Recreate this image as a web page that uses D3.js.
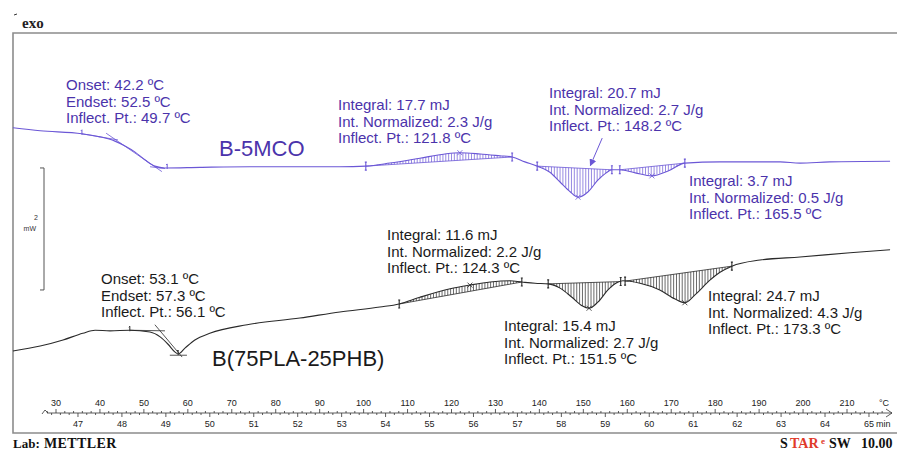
<!DOCTYPE html>
<html>
<head>
<meta charset="utf-8">
<script src="https://cdn.jsdelivr.net/npm/d3@7/dist/d3.min.js"></script>
<style>
  body { margin: 0; background: #fff; }
  svg text { font-family: "Liberation Sans", Arial, sans-serif; }
</style>
</head>
<body>
<div id="chartArea"></div>
<script>
// DSC THERMOGRAM - two curves, heat flow (mW) vs temperature (C)

// axis labels
var tempTicks = [30, 40, 50, 60, 70, 80, 90, 100, 110, 120, 130, 140, 150, 160, 170, 180, 190, 200, 210];
var timeTicks = [47, 48, 49, 50, 51, 52, 53, 54, 55, 56, 57, 58, 59, 60, 61, 62, 63, 64, 65];

// B-5MCO curve (upper)
var topTemp = [20.2, 26.4, 35.9, 40.0, 43.4, 45.7, 48.0, 50.3, 52.5, 54.8, 62.8, 74.1, 85.5, 94.6, 100.5, 106.0, 112.8, 118.5, 121.9, 126.5, 131.0, 133.8, 136.7, 139.5, 142.4, 144.7, 147.0, 148.8, 151.1, 153.3, 155.2, 156.5, 158.3, 161.8, 165.6, 169.3, 173.1, 181.1, 194.8, 199.3, 206.1, 219.8];
var topHF = [4.30, 4.25, 4.20, 4.15, 4.08, 4.00, 3.90, 3.77, 3.67, 3.64, 3.65, 3.66, 3.66, 3.66, 3.67, 3.72, 3.80, 3.87, 3.89, 3.87, 3.84, 3.82, 3.74, 3.67, 3.57, 3.41, 3.25, 3.16, 3.25, 3.44, 3.56, 3.61, 3.61, 3.56, 3.51, 3.59, 3.72, 3.74, 3.74, 3.72, 3.74, 3.75];

// B(75PLA-25PHB) curve (lower)
var botTemp = [20.2, 26.4, 31.6, 36.1, 38.9, 42.3, 46.8, 51.4, 53.7, 55.5, 57.1, 57.8, 59.4, 61.6, 65.0, 73.5, 85.5, 94.6, 103.7, 108.1, 112.8, 119.7, 124.2, 128.8, 133.3, 136.0, 139.0, 142.0, 144.7, 147.4, 149.7, 151.3, 153.3, 155.6, 157.4, 159.0, 162.9, 167.4, 170.9, 173.1, 175.4, 178.8, 181.1, 183.8, 190.2, 199.3, 210.7, 219.8];
var botHF = [0.64, 0.72, 0.82, 0.93, 0.98, 0.97, 0.98, 0.95, 0.87, 0.75, 0.62, 0.59, 0.69, 0.82, 0.93, 1.07, 1.18, 1.28, 1.36, 1.41, 1.52, 1.66, 1.72, 1.77, 1.79, 1.77, 1.75, 1.74, 1.67, 1.52, 1.38, 1.34, 1.44, 1.64, 1.75, 1.79, 1.75, 1.64, 1.49, 1.43, 1.56, 1.80, 1.93, 2.03, 2.13, 2.18, 2.25, 2.30];

// integration limits, peaks, onset marks
var topLimits = [[100.5, 133.8], [139.5, 156.5], [158.3, 173.1]];
var botLimits = [[108.1, 136.0], [142.0, 158.5], [159.5, 183.8]];
var topPeaks = [121.9, 148.8, 165.6];
var botPeaks = [124.2, 151.3, 173.1];
var topOnsetMarks = [35.9, 55.3];
var botOnsetMarks = [46.8, 57.8];
var topTangents = [[[35.9, 4.20], [44.1, 4.10]], [[41.4, 4.21], [54.1, 3.58]], [[51.4, 3.66], [54.8, 3.63]]];
var botTangents = [[[46.8, 0.98], [54.8, 0.97]], [[52.5, 1.07], [58.7, 0.54]], [[55.9, 0.57], [59.8, 0.57]]];
var topArrow = [[154.3, 4.13], [151.6, 3.68]];
var scaleBar = [3.64, 1.64];   // 2 mW

// texts
var topOnsetText = ["Onset: 42.2 \u00baC", "Endset: 52.5 \u00baC", "Inflect. Pt.: 49.7 \u00baC"];
var topInt1Text = ["Integral: 17.7 mJ", "Int. Normalized: 2.3 J/g", "Inflect. Pt.: 121.8 \u00baC"];
var topInt2Text = ["Integral: 20.7 mJ", "Int. Normalized: 2.7 J/g", "Inflect. Pt.: 148.2 \u00baC"];
var topInt3Text = ["Integral: 3.7 mJ", "Int. Normalized: 0.5 J/g", "Inflect. Pt.: 165.5 \u00baC"];
var botOnsetText = ["Onset: 53.1 \u00baC", "Endset: 57.3 \u00baC", "Inflect. Pt.: 56.1 \u00baC"];
var botInt1Text = ["Integral: 11.6 mJ", "Int. Normalized: 2.2 J/g", "Inflect. Pt.: 124.3 \u00baC"];
var botInt2Text = ["Integral: 15.4 mJ", "Int. Normalized: 2.7 J/g", "Inflect. Pt.: 151.5 \u00baC"];
var botInt3Text = ["Integral: 24.7 mJ", "Int. Normalized: 4.3 J/g", "Inflect. Pt.: 173.3 \u00baC"];
var topName = "B-5MCO";
var botName = "B(75PLA-25PHB)";

(function() {

    var width = 897, height = 450;
    var purple = "#6b57d6", purpleText = "#4b33ab";
    var black = "#2a2a2a", blackText = "#1a1a1a";

    // 1. scales
    var x = d3.scaleLinear().domain([30, 210]).range([56, 847]);
    var y = d3.scaleLinear().domain([0, 6]).range([390, 24]);   // 61 px per mW
    // 10 K/min, 47 min is at 35 C
    var xt = d3.scaleLinear().domain([47, 65]).range([x(35), x(215)]);

    var svg = d3.select("#chartArea").append("svg")
        .attr("width", width)
        .attr("height", height);

    // 2. frame
    svg.append("path")
        .attr("d", "M897,33H13V433H897")
        .attr("fill", "none")
        .attr("stroke", "#8c8c8c")
        .attr("stroke-width", 1.6);

    svg.append("line").attr("x1", 14).attr("y1", 15).attr("x2", 17).attr("y2", 14)
        .attr("stroke", "#333").attr("stroke-width", 1);
    svg.append("text")
        .attr("x", 22).attr("y", 28)
        .style("font-family", "'Liberation Serif', serif")
        .style("font-weight", "bold")
        .style("font-size", "15px")
        .attr("fill", "#222")
        .text("exo");

    // 3. temperature / time axis
    var axisY = 413;
    var ax = svg.append("g").attr("class", "axis");
    ax.append("line").attr("x1", 47).attr("x2", 892).attr("y1", axisY).attr("y2", axisY)
        .attr("stroke", "#333").attr("stroke-width", 0.8);
    ax.append("path").attr("d", "M42," + (axisY + 1) + "L45," + (axisY - 3) + "L48," + axisY)
        .attr("fill", "none").attr("stroke", "#333").attr("stroke-width", 0.8);
    ax.append("path").attr("d", "M886," + (axisY - 4) + "L892," + axisY + "L886," + (axisY + 4))
        .attr("fill", "none").attr("stroke", "#333").attr("stroke-width", 0.8);

    var minorT = [];
    for (var t = 28; t <= 218; t += 2) minorT.push(t);
    ax.selectAll(".tminor").data(minorT).enter().append("line")
        .attr("x1", function(d) { return x(d); }).attr("x2", function(d) { return x(d); })
        .attr("y1", axisY).attr("y2", function(d) { return d % 10 === 0 ? axisY - 4 : axisY - 2; })
        .attr("stroke", "#333").attr("stroke-width", 0.8);
    var minorM = [];
    for (var m = 46.4; m <= 65.3; m += 0.2) minorM.push(Math.round(m * 10) / 10);
    ax.selectAll(".mminor").data(minorM).enter().append("line")
        .attr("x1", function(d) { return xt(d); }).attr("x2", function(d) { return xt(d); })
        .attr("y1", axisY).attr("y2", function(d) { return Math.abs(d - Math.round(d)) < 0.01 ? axisY + 4 : axisY + 2; })
        .attr("stroke", "#333").attr("stroke-width", 0.8);

    ax.selectAll(".tlab").data(tempTicks).enter().append("text")
        .attr("x", function(d) { return x(d); })
        .attr("y", axisY - 7)
        .attr("text-anchor", "middle")
        .style("font-size", "9px")
        .attr("fill", "#222")
        .text(function(d) { return d; });
    ax.append("text").attr("x", 884).attr("y", axisY - 7).attr("text-anchor", "middle")
        .style("font-size", "9px").attr("fill", "#222").text("\u00b0C");
    ax.selectAll(".mlab").data(timeTicks).enter().append("text")
        .attr("x", function(d) { return xt(d); })
        .attr("y", axisY + 14)
        .attr("text-anchor", "middle")
        .style("font-size", "9px")
        .attr("fill", "#222")
        .text(function(d) { return d; });
    ax.append("text").attr("x", xt(65) + 7).attr("y", axisY + 14)
        .style("font-size", "9px").attr("fill", "#222").text("min");

    // 4. scale bar (2 mW)
    var sb = svg.append("g");
    sb.append("path")
        .attr("d", "M40," + y(scaleBar[0]) + "H44V" + y(scaleBar[1]) + "H40")
        .attr("fill", "none").attr("stroke", "#555").attr("stroke-width", 1);
    sb.append("text").attr("x", 38).attr("y", 220).attr("text-anchor", "end")
        .style("font-size", "7px").attr("fill", "#333").text("2");
    sb.append("text").attr("x", 36).attr("y", 231).attr("text-anchor", "end")
        .style("font-size", "7px").attr("fill", "#333").text("mW");

    // helper - linear value of curve at temperature T
    function hfAt(T, ts, hs) {
        var i = d3.bisectLeft(ts, T);
        if (i <= 0) return hs[0];
        if (i >= ts.length) return hs[hs.length - 1];
        var f = (T - ts[i - 1]) / (ts[i] - ts[i - 1]);
        return hs[i - 1] + f * (hs[i] - hs[i - 1]);
    }

    // 5. draw one curve with its evaluations
    function drawCurve(ts, hs, limits, peaks, onsets, tangents, col) {
        var g = svg.append("g");
        var pts = ts.map(function(d, i) { return [d, hs[i]]; });
        var line = d3.line()
            .x(function(d) { return x(d[0]); })
            .y(function(d) { return y(d[1]); })
            .curve(d3.curveMonotoneX);

        // hatching between curve and integration baseline
        limits.forEach(function(lim) {
            var h0 = hfAt(lim[0], ts, hs), h1 = hfAt(lim[1], ts, hs);
            var hatch = [];
            for (var T = lim[0] + 0.65; T < lim[1]; T += 0.65) hatch.push(T);
            g.selectAll(null).data(hatch).enter().append("line")
                .attr("x1", function(d) { return x(d); })
                .attr("x2", function(d) { return x(d); })
                .attr("y1", function(d) { return y(hfAt(d, ts, hs)); })
                .attr("y2", function(d) { return y(h0 + (h1 - h0) * (d - lim[0]) / (lim[1] - lim[0])); })
                .attr("stroke", col).attr("stroke-width", 0.7);
            g.append("line")
                .attr("x1", x(lim[0])).attr("y1", y(h0))
                .attr("x2", x(lim[1])).attr("y2", y(h1))
                .attr("stroke", col).attr("stroke-width", 0.8);
            // limit marks
            [lim[0], lim[1]].forEach(function(T) {
                var yy = y(hfAt(T, ts, hs));
                g.append("path")
                    .attr("d", "M" + (x(T) - 1) + "," + (yy - 4) + "H" + (x(T) + 1) +
                        "M" + x(T) + "," + (yy - 4) + "V" + (yy + 4) +
                        "M" + (x(T) - 1) + "," + (yy + 4) + "H" + (x(T) + 1))
                    .attr("fill", "none").attr("stroke", col).attr("stroke-width", 1.1);
            });
        });

        tangents.forEach(function(tg) {
            g.append("line")
                .attr("x1", x(tg[0][0])).attr("y1", y(tg[0][1]))
                .attr("x2", x(tg[1][0])).attr("y2", y(tg[1][1]))
                .attr("stroke", col).attr("stroke-width", 0.8);
        });

        g.append("path")
            .datum(pts)
            .attr("d", line)
            .attr("fill", "none")
            .attr("stroke", col)
            .attr("stroke-width", 1.1);

        // peak crosses
        peaks.forEach(function(T) {
            var xx = x(T), yy = y(hfAt(T, ts, hs));
            g.append("path")
                .attr("d", "M" + (xx - 2.5) + "," + (yy - 2.5) + "L" + (xx + 2.5) + "," + (yy + 2.5) +
                    "M" + (xx - 2.5) + "," + (yy + 2.5) + "L" + (xx + 2.5) + "," + (yy - 2.5))
                .attr("stroke", col).attr("stroke-width", 0.8);
        });

        // onset marks
        onsets.forEach(function(T) {
            var xx = x(T), yy = y(hfAt(T, ts, hs));
            g.append("path")
                .attr("d", "M" + (xx - 1) + "," + (yy - 3) + "L" + xx + "," + (yy - 4) + "V" + (yy + 1))
                .attr("fill", "none").attr("stroke", col).attr("stroke-width", 1);
        });
    }

    drawCurve(topTemp, topHF, topLimits, topPeaks, topOnsetMarks, topTangents, purple);
    drawCurve(botTemp, botHF, botLimits, botPeaks, botOnsetMarks, botTangents, black);

    // arrow for 148.2 peak
    svg.append("defs").append("marker")
        .attr("id", "arr").attr("viewBox", "0 0 10 10").attr("refX", 9).attr("refY", 5)
        .attr("markerWidth", 7).attr("markerHeight", 7).attr("orient", "auto")
        .append("path").attr("d", "M0,0L10,5L0,10z").attr("fill", purple);
    svg.append("line")
        .attr("x1", x(topArrow[0][0])).attr("y1", y(topArrow[0][1]))
        .attr("x2", x(topArrow[1][0])).attr("y2", y(topArrow[1][1]))
        .attr("stroke", purple).attr("stroke-width", 1)
        .attr("marker-end", "url(#arr)");

    // 6. annotation blocks
    function block(lines, bx, by, col) {
        svg.append("g").selectAll("text").data(lines).enter().append("text")
            .attr("x", bx)
            .attr("y", function(d, i) { return by + i * 16.6; })
            .style("font-size", "15px")
            .attr("fill", col)
            .text(function(d) { return d; });
    }
    block(topOnsetText, 66, 90, purpleText);
    block(topInt1Text, 338, 110, purpleText);
    block(topInt2Text, 549, 98, purpleText);
    block(topInt3Text, 689, 186, purpleText);
    block(botOnsetText, 101, 284, blackText);
    block(botInt1Text, 387, 240, blackText);
    block(botInt2Text, 504, 331, blackText);
    block(botInt3Text, 708, 301, blackText);

    svg.append("text").attr("x", 219).attr("y", 156)
        .style("font-size", "22px").attr("fill", purpleText).text(topName);
    svg.append("text").attr("x", 212).attr("y", 366)
        .style("font-size", "22px").attr("fill", blackText).text(botName);

    // 7. footer
    var serif = "'Liberation Serif', serif";
    svg.append("text").attr("x", 13).attr("y", 448)
        .style("font-family", serif).style("font-weight", "bold").style("font-size", "13px")
        .attr("fill", "#111").text("Lab:");
    svg.append("text").attr("x", 44).attr("y", 448)
        .style("font-family", serif).style("font-weight", "bold").style("font-size", "14px")
        .style("letter-spacing", "0.4px")
        .attr("fill", "#111").text("METTLER");

    var foot = [
        {t: "S", x: 780, c: "#111", s: 14, dy: 0},
        {t: "TAR", x: 790, c: "#e03a2a", s: 14, dy: 0},
        {t: "e", x: 821, c: "#e03a2a", s: 9, dy: -4},
        {t: "SW", x: 829, c: "#111", s: 14, dy: 0},
        {t: "10.00", x: 861, c: "#111", s: 14, dy: 0}
    ];
    svg.append("g").selectAll("text").data(foot).enter().append("text")
        .attr("x", function(d) { return d.x; })
        .attr("y", function(d) { return 448 + d.dy; })
        .style("font-family", serif)
        .style("font-weight", "bold")
        .style("font-size", function(d) { return d.s + "px"; })
        .attr("fill", function(d) { return d.c; })
        .text(function(d) { return d.t; });

})()
</script>
</body>
</html>
